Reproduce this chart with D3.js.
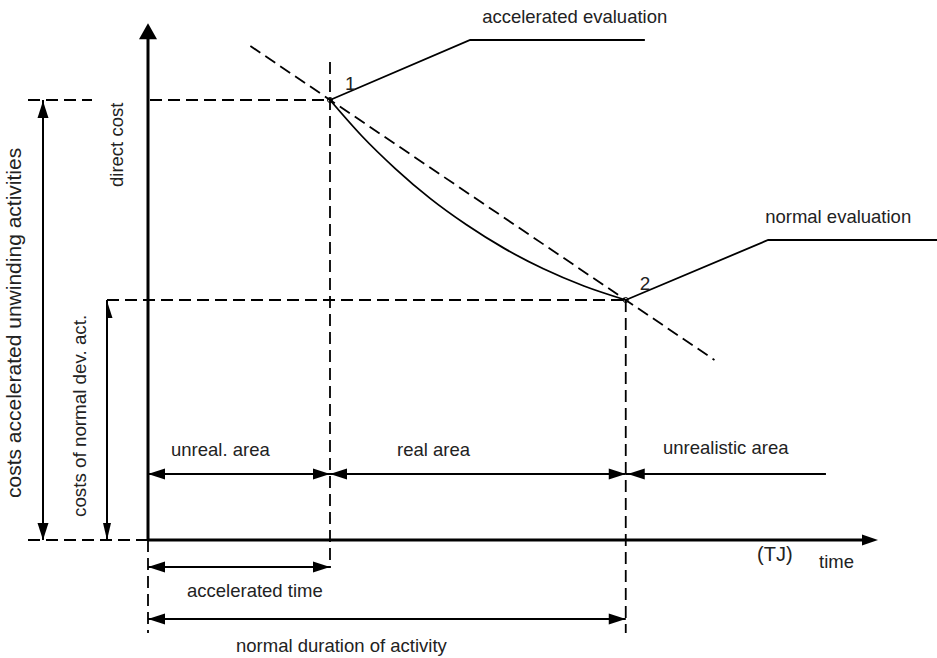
<!DOCTYPE html>
<html>
<head>
<meta charset="utf-8">
<script src="https://cdn.jsdelivr.net/npm/d3@7"></script>
<style>
  body { margin: 0; background: #fff; }
  text { font-family: "Liberation Sans", Arial, sans-serif; fill: #222; }
</style>
</head>
<body>
<div id="chart"></div>
<script>
// key points: 1 = accelerated, 2 = normal
const pointLabels = ["1", "2"];
const pointTime = [4, 10.5];
const pointCost = [11, 6];

// direct cost curve between the two points
const curveTime = [4, 4.7, 5.44, 6.2, 7, 7.83, 8.69, 9.58, 10.5];
const curveCost = [11, 10.1, 9.28, 8.54, 7.88, 7.29, 6.78, 6.35, 6];

// straight dashed line through 1 and 2
const trendTime = [2.25, 12.45];
const trendCost = [12.35, 4.5];

// callouts
const evalNames = ["accelerated evaluation", "normal evaluation"];
const evalElbowTime = [7.08, 13.63];
const evalElbowCost = [12.5, 7.5];
const evalEndTime = [10.92, 17.4];

// zones along the time axis
const zoneNames = ["unreal. area", "real area", "unrealistic area"];
const zoneStart = [0, 4, 10.5];
const zoneEnd = [4, 10.5, 14.9];

// durations under the axis
const durationNames = ["accelerated time", "normal duration of activity"];
const durationEnd = [4, 10.5];

// cost dimensions on the left
const costNames = ["costs accelerated unwinding activities", "costs of normal dev. act."];
const costEnd = [11, 6];

const width = 937, height = 658;

const svg = d3.select('#chart').append('svg')
  .attr('width', width)
  .attr('height', height);

const x = d3.scaleLinear().domain([0, 16]).range([148, 876]);
const y = d3.scaleLinear().domain([0, 11]).range([540, 100]);
const yTop = 12.92;

const dash = '12,6';

function line(x1, y1, x2, y2, w, dashed) {
  return svg.append('line')
    .attr('x1', x1).attr('y1', y1).attr('x2', x2).attr('y2', y2)
    .attr('stroke', '#000')
    .attr('stroke-width', w)
    .attr('stroke-dasharray', dashed ? dash : null);
}

// arrow head, tip at (tx,ty), pointing at angle deg
function head(tx, ty, angle, len, half, halfOnly) {
  const pts = halfOnly
    ? [[0, 0], [-len, 0], [-len, half]]
    : [[0, 0], [-len, -half], [-len, half]];
  svg.append('polygon')
    .attr('points', pts.map(p => p.join(',')).join(' '))
    .attr('transform', 'translate(' + tx + ',' + ty + ') rotate(' + angle + ')')
    .attr('fill', '#000');
}

function hArrow(x1, x2, yy, leftHead, rightHead) {
  line(x1, yy, x2, yy, 2);
  if (leftHead) head(x1, yy, 180, 17, 5.5);
  if (rightHead) head(x2, yy, 0, 17, 5.5);
}

// dashed guides
const p1 = [x(pointTime[0]), y(pointCost[0])];
const p2 = [x(pointTime[1]), y(pointCost[1])];

line(28, p1[1], 92, p1[1], 1.8, true);
line(150, p1[1], p1[0], p1[1], 1.8, true);
line(107, p2[1], p2[0], p2[1], 1.8, true);
line(28, y(0), x(0), y(0), 1.8, true);
line(p1[0], 62, p1[0], 568, 1.8, true);
line(p2[0], p2[1], p2[0], 633, 1.8, true);
line(x(0), y(0), x(0), 633, 1.8, true);

// trend line
line(x(trendTime[0]), y(trendCost[0]), x(trendTime[1]), y(trendCost[1]), 1.8, true);

// axes
line(x(0), y(0), x(0), y(yTop) + 12, 3);
head(x(0), y(yTop), -90, 16, 9);
line(x(0), y(0), x(16) - 12, y(0), 3);
head(x(16) + 2, y(0), 0, 16, 5.5);

// cost curve
const curvePts = curveTime.map((t, i) => [x(t), y(curveCost[i])]);
svg.append('path')
  .attr('d', d3.line().curve(d3.curveMonotoneX)(curvePts))
  .attr('fill', 'none')
  .attr('stroke', '#000')
  .attr('stroke-width', 1.8);

// point markers + callouts
pointTime.forEach((t, i) => {
  const px = x(t), py = y(pointCost[i]);
  svg.append('circle')
    .attr('cx', px).attr('cy', py).attr('r', 2.5)
    .attr('fill', 'none').attr('stroke', '#000').attr('stroke-width', 1);
  svg.append('polyline')
    .attr('points', [[px, py], [x(evalElbowTime[i]), y(evalElbowCost[i])], [x(evalEndTime[i]), y(evalElbowCost[i])]].map(p => p.join(',')).join(' '))
    .attr('fill', 'none')
    .attr('stroke', '#000')
    .attr('stroke-width', 1.8);
  svg.append('text')
    .attr('x', px + (i === 0 ? 15 : 14))
    .attr('y', py - 10)
    .attr('font-size', 19)
    .text(pointLabels[i]);
  svg.append('text')
    .attr('x', x(evalElbowTime[i]) + (i === 0 ? 12 : -3))
    .attr('y', y(evalElbowCost[i]) - 17)
    .attr('font-size', 18.5)
    .text(evalNames[i]);
});

// zones
const zoneY = 474;
zoneNames.forEach((name, i) => {
  hArrow(x(zoneStart[i]), x(zoneEnd[i]), zoneY, i < 2, i < 2);
});
head(x(zoneStart[2]) + 2, zoneY, 180, 17, 5.5);
const zoneTextX = [171, 397, 663];
zoneNames.forEach((name, i) => {
  svg.append('text')
    .attr('x', zoneTextX[i])
    .attr('y', i === 2 ? 454 : 456)
    .attr('font-size', 18.5)
    .text(name);
});

// durations
const durY = [567, 619];
const durTextX = [187, 236];
const durTextY = [597, 652];
durationNames.forEach((name, i) => {
  hArrow(x(0), x(durationEnd[i]), durY[i], true, true);
  svg.append('text')
    .attr('x', durTextX[i])
    .attr('y', durTextY[i])
    .attr('font-size', 18.5)
    .text(name);
});

// cost dimensions (vertical)
const costX = [43, 107];
costEnd.forEach((c, i) => {
  line(costX[i], y(0), costX[i], y(c), 2);
  head(costX[i], y(c) + 1, -90, 17, 5.5, i === 1);
  head(costX[i], y(0), 90, 17, i === 0 ? 5.5 : 4);
});
svg.append('text')
  .attr('transform', 'translate(21,498) rotate(-90)')
  .attr('font-size', 21)
  .text(costNames[0]);
svg.append('text')
  .attr('transform', 'translate(86,517) rotate(-90)')
  .attr('font-size', 18.8)
  .text(costNames[1]);
svg.append('text')
  .attr('transform', 'translate(123,187) rotate(-90)')
  .attr('font-size', 18.5)
  .text('direct cost');

// axis labels
svg.append('text')
  .attr('x', 757).attr('y', 561)
  .attr('font-size', 20)
  .text('(TJ)');
svg.append('text')
  .attr('x', 819).attr('y', 568)
  .attr('font-size', 18.5)
  .text('time');
</script>
</body>
</html>
